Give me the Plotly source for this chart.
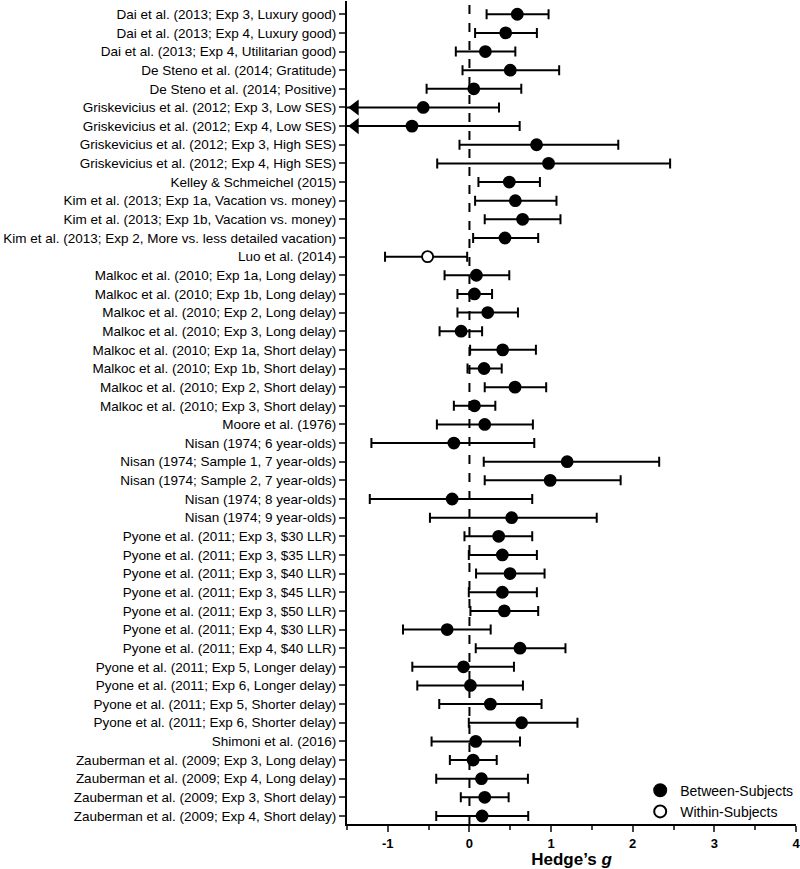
import plotly.graph_objects as go

studies = [
    "Dai et al. (2013; Exp 3, Luxury good)",
    "Dai et al. (2013; Exp 4, Luxury good)",
    "Dai et al. (2013; Exp 4, Utilitarian good)",
    "De Steno et al. (2014; Gratitude)",
    "De Steno et al. (2014; Positive)",
    "Griskevicius et al. (2012; Exp 3, Low SES)",
    "Griskevicius et al. (2012; Exp 4, Low SES)",
    "Griskevicius et al. (2012; Exp 3, High SES)",
    "Griskevicius et al. (2012; Exp 4, High SES)",
    "Kelley & Schmeichel (2015)",
    "Kim et al. (2013; Exp 1a, Vacation vs. money)",
    "Kim et al. (2013; Exp 1b, Vacation vs. money)",
    "Kim et al. (2013; Exp 2, More vs. less detailed vacation)",
    "Luo et al. (2014)",
    "Malkoc et al. (2010; Exp 1a, Long delay)",
    "Malkoc et al. (2010; Exp 1b, Long delay)",
    "Malkoc et al. (2010; Exp 2, Long delay)",
    "Malkoc et al. (2010; Exp 3, Long delay)",
    "Malkoc et al. (2010; Exp 1a, Short delay)",
    "Malkoc et al. (2010; Exp 1b, Short delay)",
    "Malkoc et al. (2010; Exp 2, Short delay)",
    "Malkoc et al. (2010; Exp 3, Short delay)",
    "Moore et al. (1976)",
    "Nisan (1974; 6 year-olds)",
    "Nisan (1974; Sample 1, 7 year-olds)",
    "Nisan (1974; Sample 2, 7 year-olds)",
    "Nisan (1974; 8 year-olds)",
    "Nisan (1974; 9 year-olds)",
    "Pyone et al. (2011; Exp 3, $30 LLR)",
    "Pyone et al. (2011; Exp 3, $35 LLR)",
    "Pyone et al. (2011; Exp 3, $40 LLR)",
    "Pyone et al. (2011; Exp 3, $45 LLR)",
    "Pyone et al. (2011; Exp 3, $50 LLR)",
    "Pyone et al. (2011; Exp 4, $30 LLR)",
    "Pyone et al. (2011; Exp 4, $40 LLR)",
    "Pyone et al. (2011; Exp 5, Longer delay)",
    "Pyone et al. (2011; Exp 6, Longer delay)",
    "Pyone et al. (2011; Exp 5, Shorter delay)",
    "Pyone et al. (2011; Exp 6, Shorter delay)",
    "Shimoni et al. (2016)",
    "Zauberman et al. (2009; Exp 3, Long delay)",
    "Zauberman et al. (2009; Exp 4, Long delay)",
    "Zauberman et al. (2009; Exp 3, Short delay)",
    "Zauberman et al. (2009; Exp 4, Short delay)",
]

g = [0.586, 0.444, 0.195, 0.50, 0.053, -0.566, -0.704, 0.822, 0.969,
     0.488, 0.562, 0.651, 0.435, -0.513,
     0.085, 0.061, 0.224, -0.102, 0.407, 0.179, 0.558, 0.061,
     0.187, -0.191, 1.197, 0.989, -0.212, 0.517,
     0.358, 0.403, 0.497, 0.403, 0.427, -0.273, 0.619,
     -0.073, 0.012, 0.256, 0.639, 0.077,
     0.045, 0.147, 0.187, 0.155]

ci_low = [0.21, 0.069, -0.167, -0.085, -0.525, -1.75, -2.03, -0.122, -0.395,
          0.110, 0.069, 0.187, 0.045, -1.034,
          -0.305, -0.147, -0.147, -0.366, 0.008, -0.024, 0.187, -0.191,
          -0.399, -1.201, 0.175, 0.187, -1.221, -0.484,
          -0.061, -0.008, 0.081, -0.008, 0.012, -0.814, 0.077,
          -0.700, -0.639, -0.370, -0.008, -0.464,
          -0.240, -0.407, -0.106, -0.407]

ci_high = [0.969, 0.826, 0.562, 1.099, 0.635, 0.362, 0.615, 1.823, 2.458,
           0.863, 1.066, 1.115, 0.842, -0.028,
           0.488, 0.277, 0.594, 0.155, 0.814, 0.395, 0.940, 0.317,
           0.777, 0.794, 2.324, 1.852, 0.769, 1.559,
           0.769, 0.826, 0.920, 0.826, 0.842, 0.260, 1.176,
           0.545, 0.655, 0.883, 1.323, 0.619,
           0.334, 0.716, 0.480, 0.720]

design = ["Between"] * 13 + ["Within"] + ["Between"] * 30

x_ticks = [-1, 0, 1, 2, 3, 4]
x_tick_labels = ["-1", "0", "1", "2", "3", "4"]
X_MIN, X_MAX = -1.5, 4

FONT = "Arial, Liberation Sans, sans-serif"
fig = go.Figure()

rows = list(range(len(studies)))

def add_group(kind, name, fill):
    idx = [i for i in rows if design[i] == kind]
    fig.add_trace(go.Scatter(
        x=[g[i] for i in idx],
        y=[i for i in idx],
        mode="markers",
        name=name,
        marker=dict(symbol="circle", size=11, color=fill,
                    line=dict(color="black", width=1.8)),
        error_x=dict(type="data", symmetric=False,
                     array=[ci_high[i] - g[i] for i in idx],
                     arrayminus=[g[i] - ci_low[i] for i in idx],
                     color="black", thickness=2, width=5),
    ))

# dashed zero line
fig.add_vline(x=0, line=dict(color="black", width=2, dash="dash"), layer="below")

add_group("Between", "Between-Subjects", "black")
add_group("Within", "Within-Subjects", "white")

# arrows for CIs extending beyond the axis
arr = [i for i in rows if ci_low[i] < X_MIN]
fig.add_trace(go.Scatter(
    x=[X_MIN + 0.1] * len(arr), y=arr, mode="markers", showlegend=False,
    marker=dict(symbol="triangle-left", size=14, color="black"),
    cliponaxis=False,
))

fig.update_layout(
    width=800, height=869,
    margin=dict(l=347, r=4, t=1, b=45),
    plot_bgcolor="white", paper_bgcolor="white",
    font=dict(family=FONT, color="black", size=12),
    showlegend=True,
    legend=dict(x=0.653, y=0.06, xanchor="left", yanchor="top",
                bgcolor="rgba(0,0,0,0)", font=dict(size=14, family=FONT),
                borderwidth=0, itemsizing="constant", tracegroupgap=0),
    xaxis=dict(range=[X_MIN, X_MAX], tickvals=x_ticks, ticktext=x_tick_labels,
               ticks="outside", ticklen=6, tickwidth=1.5,
               showline=True, linecolor="black", linewidth=2,
               showgrid=False, zeroline=False, ticklabeloverflow="allow",
               tickfont=dict(size=13, weight="bold"),
               minor=dict(dtick=0.5, ticks="outside", ticklen=4, tickwidth=1.5, showgrid=False),
               title=dict(text="<b>Hedge’s <i>g</i></b>", font=dict(size=17), standoff=4)),
    yaxis=dict(range=[len(studies) - 1 + 0.43, -0.71],
               tickvals=rows, ticktext=studies,
               ticks="outside", ticklen=6, tickwidth=1.5,
               showline=True, linecolor="black", linewidth=2,
               showgrid=False, zeroline=False, ticklabeloverflow="allow",
               tickfont=dict(size=13.5)),
)

fig.write_html(
    "out.html",
    config={"displayModeBar": False},
    post_script="document.body.style.margin='0';document.body.style.overflow='hidden';",
)
